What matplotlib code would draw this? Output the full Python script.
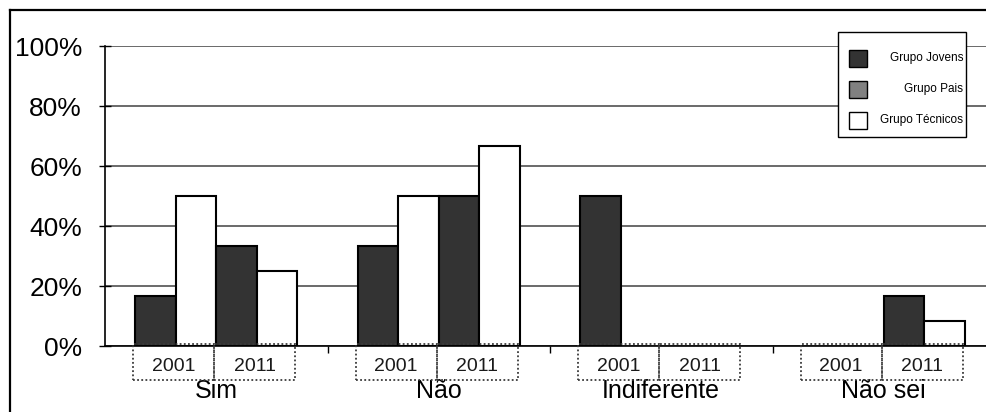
import numpy as np
import matplotlib
matplotlib.use("Agg")
import matplotlib.pyplot as plt
import matplotlib.transforms as mtransforms
from matplotlib.patches import Rectangle
from matplotlib.lines import Line2D

plt.rcParams['font.family'] = ['Liberation Sans', 'DejaVu Sans']

# dados
respostas = ['Sim', 'Não', 'Indiferente', 'Não sei']
anos = ['2001', '2011']
jovens_2001 = [0.167, 0.333, 0.50, 0.0]
tecnicos_2001 = [0.50, 0.50, 0.0, 0.0]
jovens_2011 = [0.333, 0.50, 0.0, 0.167]
tecnicos_2011 = [0.25, 0.667, 0.0, 0.083]
yticks = [0, 0.2, 0.4, 0.6, 0.8, 1.0]
ylabels = ['0%', '20%', '40%', '60%', '80%', '100%']
grupos = ['Grupo Jovens', 'Grupo Pais', 'Grupo Técnicos']
cores = ['#333333', '#808080', 'white']

W, H = 986, 412
fig = plt.figure(figsize=(W / 100, H / 100), dpi=100)
fig.patch.set_facecolor('white')


def fx(px):
    return px / W


def fy(py):
    return 1 - py / H


ax = fig.add_axes([fx(105), fy(346), (995 - 105) / W, 300 / H])
x = np.arange(len(respostas))
w = 0.182

series = [(jovens_2001, cores[0], -1.5), (tecnicos_2001, cores[2], -0.5),
          (jovens_2011, cores[0], 0.5), (tecnicos_2011, cores[2], 1.5)]
for vals, cor, off in series:
    v = np.array(vals)
    m = v > 0
    ax.bar(x[m] + off * w, v[m], w, color=cor, edgecolor='black', linewidth=1.5, zorder=3)

ax.set_xlim(-0.5, 3.5)
ax.set_ylim(0, 1)
ax.set_yticks(yticks, ylabels)
ax.yaxis.grid(True, color='#505050', lw=1.2)
ax.set_axisbelow(True)
ax.tick_params(axis='y', direction='inout', length=9, width=1, labelsize=19, pad=12)
ax.set_xticks(x[:-1] + 0.5, [''] * 3)
ax.tick_params(axis='x', direction='out', length=5, width=1)
for s in ['top', 'right']:
    ax.spines[s].set_visible(False)
for s in ['left', 'bottom']:
    ax.spines[s].set_linewidth(1.2)

# caixas pontilhadas com os anos
trans = mtransforms.blended_transform_factory(ax.transData, ax.transAxes)
for i in x:
    for j, ano in enumerate(anos):
        c = i + (j - 0.5) * 2 * w
        ax.add_patch(Rectangle((c - w - 0.01, -0.113), 2 * w, 0.12, fill=False,
                               ls=(0, (1, 1.3)), ec='#3a3a3a', lw=1.3,
                               transform=trans, clip_on=False, zorder=4))
        ax.text(c - 0.01, -0.083, ano, transform=trans, ha='center', va='baseline',
                fontsize=14, color='#1a1a1a')
    ax.text(i, -0.175, respostas[i], transform=trans, ha='center', va='baseline',
            fontsize=18, color='black')

# legenda
fig.add_artist(Rectangle((fx(838), fy(137)), (966 - 838) / W, 105 / H,
                         transform=fig.transFigure, fc='white', ec='black', lw=1))
for k, (g, cor) in enumerate(zip(grupos, cores)):
    yc = [58, 89, 120][k]
    fig.add_artist(Rectangle((fx(849), fy(yc + 8.5)), 18 / W, 17 / H,
                             transform=fig.transFigure, fc=cor, ec='black', lw=1))
    fig.text(fx(963), fy(yc), g, ha='right', va='center', fontsize=8.5)

# moldura
fig.add_artist(Line2D([fx(10), fx(10)], [fy(10), 0], color='black', lw=1.6))
fig.add_artist(Line2D([fx(10), 1], [fy(10), fy(10)], color='black', lw=1.6))

fig.savefig('out.png', dpi=100)
